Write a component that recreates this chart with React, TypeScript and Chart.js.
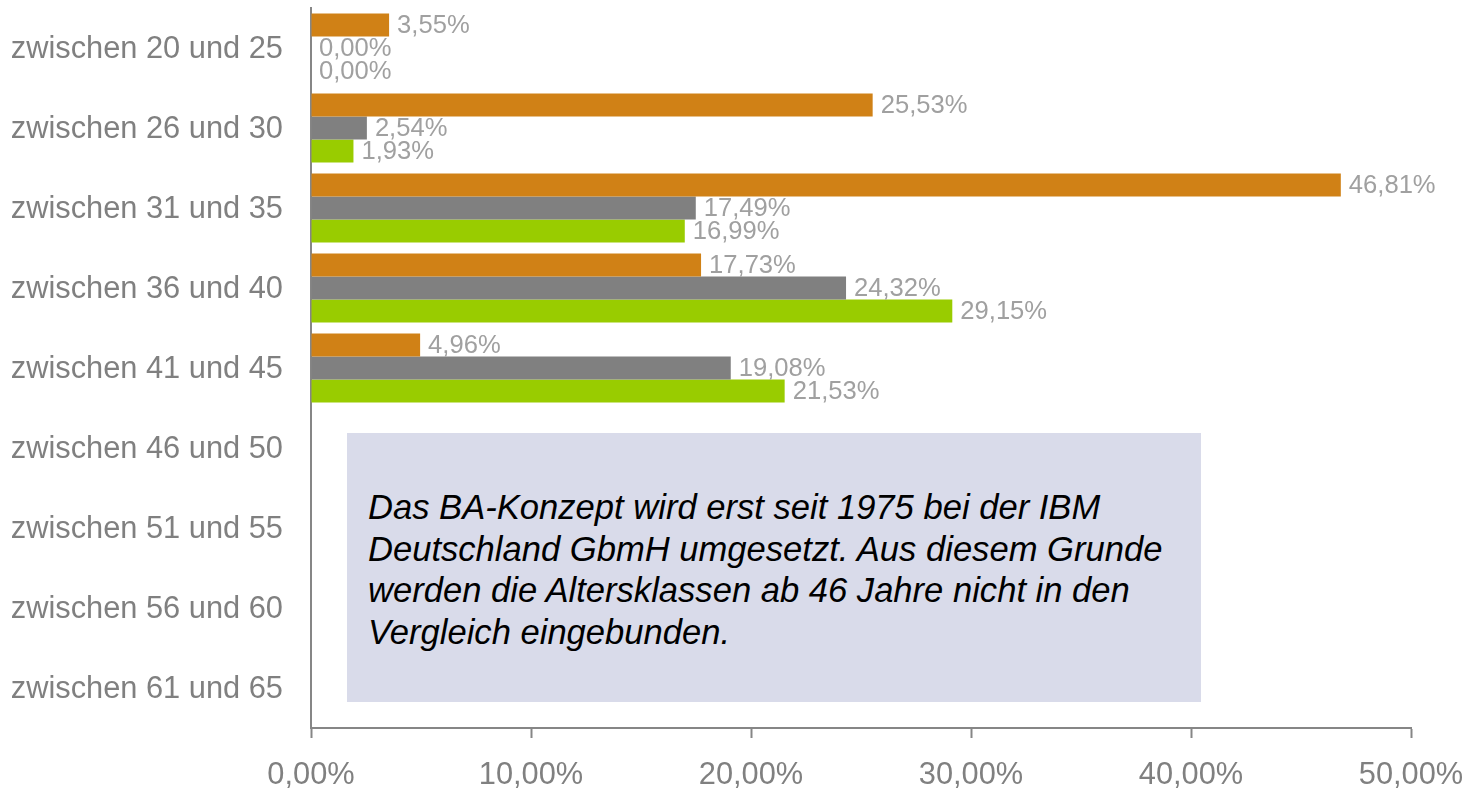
import React, { useEffect, useRef } from "react";
import { Chart, registerables } from "chart.js";

Chart.register(...registerables);

const categories = [
  "zwischen 20 und 25",
  "zwischen 26 und 30",
  "zwischen 31 und 35",
  "zwischen 36 und 40",
  "zwischen 41 und 45",
  "zwischen 46 und 50",
  "zwischen 51 und 55",
  "zwischen 56 und 60",
  "zwischen 61 und 65",
];

const seriesOrange: (number | null)[] = [3.55, 25.53, 46.81, 17.73, 4.96, null, null, null, null];
const seriesGray: (number | null)[] = [0.0, 2.54, 17.49, 24.32, 19.08, null, null, null, null];
const seriesGreen: (number | null)[] = [0.0, 1.93, 16.99, 29.15, 21.53, null, null, null, null];

const xTicks = [0, 10, 20, 30, 40, 50];

const noteLines = [
  "Das BA-Konzept wird erst seit 1975 bei der IBM",
  "Deutschland GbmH umgesetzt. Aus diesem Grunde",
  "werden die Altersklassen ab 46 Jahre nicht in den",
  "Vergleich eingebunden.",
];

const FONT = '"Liberation Sans", Arial, Helvetica, sans-serif';
const fmt = (v: number) => v.toFixed(2).replace(".", ",") + "%";

const valueLabels = {
  id: "valueLabels",
  afterDatasetsDraw(chart: any) {
    const ctx = chart.ctx;
    ctx.save();
    ctx.font = `25.6px ${FONT}`;
    ctx.fillStyle = "#a0a0a0";
    ctx.textAlign = "left";
    ctx.textBaseline = "middle";
    chart.data.datasets.forEach((ds: any, i: number) => {
      const meta = chart.getDatasetMeta(i);
      meta.data.forEach((el: any, j: number) => {
        const v = ds.data[j];
        if (v === null || v === undefined) return;
        ctx.fillText(fmt(v), el.x + 8, el.y + 1);
      });
    });
    ctx.restore();
  },
};

export default function App() {
  const ref = useRef<HTMLCanvasElement>(null);

  useEffect(() => {
    document.body.style.margin = "0";
    const chart = new Chart(ref.current!, {
      type: "bar",
      data: {
        labels: categories,
        datasets: [
          { label: "A", data: seriesOrange, backgroundColor: "#D08116" },
          { label: "B", data: seriesGray, backgroundColor: "#808080" },
          { label: "C", data: seriesGreen, backgroundColor: "#99CC00" },
        ],
      },
      options: {
        indexAxis: "y",
        responsive: false,
        animation: false,
        layout: { padding: { top: 8, right: 60, left: 0, bottom: 0 } },
        datasets: { bar: { categoryPercentage: 0.86, barPercentage: 1.0 } },
        plugins: { legend: { display: false }, tooltip: { enabled: false } },
        scales: {
          x: {
            type: "linear",
            min: 0,
            max: 50,
            afterBuildTicks: (s: any) => {
              s.ticks = xTicks.map((v) => ({ value: v }));
            },
            afterFit: (s: any) => {
              s.height = 63;
              s.paddingLeft = 0;
              s.paddingRight = 0;
            },
            ticks: {
              callback: (v: any) => fmt(Number(v)),
              font: { family: FONT, size: 30.8 },
              color: "#808080",
              padding: 19,
              maxRotation: 0,
            },
            grid: {
              display: true,
              drawOnChartArea: false,
              drawTicks: true,
              tickLength: 10,
              tickWidth: 2,
              tickColor: "#868686",
            },
            border: { display: true, color: "#868686", width: 2 },
          },
          y: {
            type: "category",
            afterFit: (s: any) => {
              s.width = 311;
              s.paddingTop = 0;
              s.paddingBottom = 0;
            },
            ticks: {
              font: { family: FONT, size: 30.8 },
              color: "#808080",
              padding: 28,
              labelOffset: 2,
            },
            grid: { display: false, drawTicks: false },
            border: { display: true, color: "#868686", width: 2 },
          },
        },
      },
      plugins: [valueLabels],
    } as any);
    return () => chart.destroy();
  }, []);

  return (
    <div style={{ position: "absolute", left: 0, top: 0, width: 1471, height: 791 }}>
      <canvas ref={ref} width={1471} height={791} style={{ display: "block" }} />
      <div
        style={{
          position: "absolute",
          left: 347,
          top: 433,
          width: 854,
          height: 269,
          background: "#D9DBEA",
        }}
      >
        <div
          style={{
            position: "absolute",
            left: 21,
            top: 54,
            fontFamily: FONT,
            fontStyle: "italic",
            fontSize: 34.6,
            lineHeight: "41.5px",
            color: "#000",
            whiteSpace: "nowrap",
          }}
        >
          {noteLines.map((l, i) => (
            <div key={i}>{l}</div>
          ))}
        </div>
      </div>
    </div>
  );
}
